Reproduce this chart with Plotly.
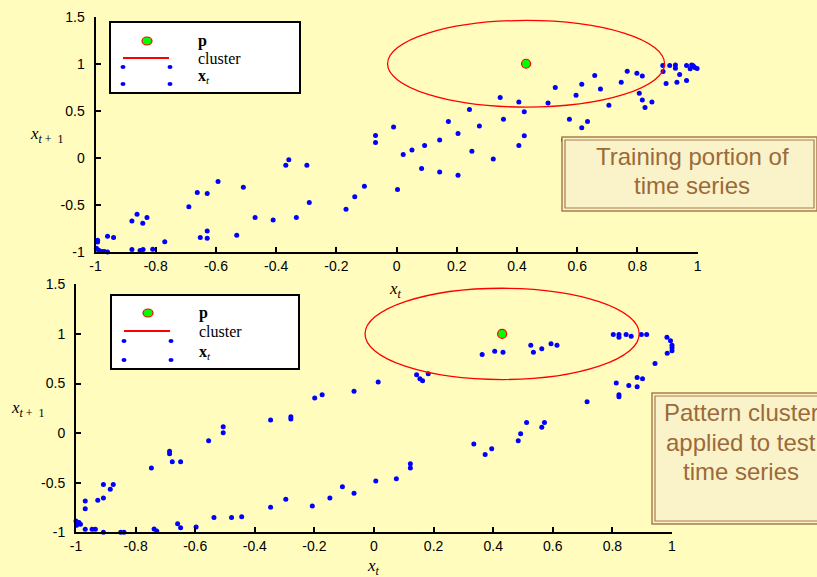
import plotly.graph_objects as go

# ---------------- data ----------------
train_x = [-0.997, -0.99, -0.979, -0.971, -0.96, -0.993, -0.993,
           -0.96, -0.94, -0.879, -0.862, -0.843, -0.829,
           -0.879, -0.852, -0.842, -0.81, -0.77,
           -0.69, -0.662, -0.629, -0.593,
           -0.652, -0.629, -0.629, -0.531,
           -0.509, -0.47, -0.41, -0.333,
           -0.368, -0.358, -0.298,
           -0.29, -0.168, -0.139, -0.107,
           -0.07, -0.07, -0.01, 0.003,
           0.022, 0.051, 0.093, 0.083,
           0.143, 0.143, 0.172, 0.204, 0.204,
           0.242, 0.25, 0.275, 0.321,
           0.344, 0.355, 0.406, 0.424, 0.424, 0.406,
           0.503, 0.527,
           0.554, 0.574, 0.615, 0.634,
           0.596, 0.615, 0.658, 0.677, 0.705,
           0.746, 0.766, 0.798, 0.816,
           0.806, 0.816, 0.825, 0.848,
           0.884, 0.885, 0.895, 0.907,
           0.926, 0.926, 0.94, 0.931,
           0.963, 0.963, 0.98, 0.985, 0.99, 0.998, 0.975]
train_y = [-0.96, -0.98, -0.996, -0.996, -1.0, -0.875, -0.895,
           -0.832, -0.847, -0.67, -0.6, -0.694, -0.634,
           -0.974, -0.985, -0.974, -0.97, -0.89,
           -0.52, -0.369, -0.379, -0.252,
           -0.847, -0.853, -0.776, -0.822,
           -0.311, -0.634, -0.659, -0.634,
           -0.078, -0.021, -0.078,
           -0.475, -0.546, -0.414, -0.301,
           0.237, 0.163, 0.329, -0.337,
           0.035, 0.085, 0.131, -0.114,
           0.191, -0.149, 0.386, 0.258, -0.184,
           0.513, 0.071, 0.34, -0.011,
           0.641, 0.411, 0.595, 0.489, 0.234, 0.131,
           0.584, 0.747,
           0.191, 0.411, 0.319, 0.386,
           0.666, 0.783, 0.875, 0.733, 0.56,
           0.804, 0.921, 0.9, 0.871,
           0.688, 0.616, 0.535, 0.595,
           0.981, 0.917, 0.79, 0.981,
           0.988, 0.953, 0.885, 0.804,
           0.822, 0.981, 0.988, 0.98, 0.96, 0.95, 0.946]

test_x = [-1.0, -0.995, -0.99, -0.985, -0.998,
          -0.969, -0.969, -0.969, -0.946, -0.935,
          -0.927, -0.908, -0.908, -0.908,
          -0.885, -0.875, -0.85, -0.839,
          -0.747, -0.738, -0.729,
          -0.686, -0.686, -0.677, -0.649,
          -0.659, -0.649, -0.597, -0.555,
          -0.537, -0.506, -0.506, -0.478, -0.444,
          -0.347, -0.347, -0.296, -0.279, -0.279,
          -0.199, -0.174, -0.207, -0.148, -0.106,
          -0.067, -0.067, 0.006, 0.014, 0.075,
          0.122, 0.122, 0.143, 0.154, 0.163, 0.182,
          0.335, 0.363, 0.373, 0.395, 0.405, 0.433,
          0.484, 0.492, 0.512, 0.526, 0.535, 0.563,
          0.563, 0.572, 0.594, 0.614,
          0.715, 0.803, 0.822, 0.822, 0.846, 0.863,
          0.897, 0.915, 0.813, 0.822, 0.822,
          0.855, 0.883, 0.883, 0.901, 0.943,
          0.983, 0.995, 1.0, 1.0, 1.0, 0.984]
test_y = [-0.886, -0.91, -0.9, -0.92, -0.93,
          -0.685, -0.762, -0.97, -0.97, -0.97,
          -0.678, -0.654, -0.517, -1.0,
          -0.567, -0.517, -1.0, -1.0,
          -0.352, -0.967, -0.987,
          -0.184, -0.207, -0.289, -0.289,
          -0.913, -0.953, -0.946, -0.077,
          -0.852, 0.064, 0.004, -0.852, -0.842,
          0.131, -0.748, -0.668, 0.165, 0.141,
          0.353, 0.387, -0.735, -0.655, -0.54,
          0.423, -0.607, -0.483, 0.514, -0.46,
          -0.308, -0.352, 0.588, 0.548, 0.528, 0.598,
          -0.111, 0.793, -0.215, -0.157, 0.826, 0.816,
          -0.077, -0.006, 0.108, 0.886, 0.816, 0.85,
          0.06, 0.108, 0.9, 0.886,
          0.316, 0.994, 0.994, 0.967, 0.994, 0.977,
          0.994, 0.994, 0.504, 0.387, 0.366,
          0.481, 0.467, 0.561, 0.548, 0.702,
          0.967, 0.93, 0.886, 0.86, 0.83, 0.806]

p_x = [0.43]
p_y = [1.0]
cluster_radius = 0.46

x_tickvals = [-1, -0.8, -0.6, -0.4, -0.2, 0, 0.2, 0.4, 0.6, 0.8, 1]
x_ticktext = ["-1", "-0.8", "-0.6", "-0.4", "-0.2", "0", "0.2", "0.4", "0.6", "0.8", "1"]
y_tickvals = [-1, -0.5, 0, 0.5, 1, 1.5]
y_ticktext = ["-1", "-0.5", "0", "0.5", "1", "1.5"]

box_texts_top = ["Training portion of", "time series"]
box_texts_bottom = ["Pattern cluster", "applied to test", "time series"]

# ---------------- styling ----------------
W, H = 817, 577
BG = "#FFFCBE"
BOX_FILL = "#FAF3C9"
BOX_LINE = "#A87D4C"
BOX_TEXT = "#9C6A3A"
SANS = "Liberation Sans, Arial, sans-serif"
SERIF = "Liberation Serif, Times New Roman, serif"


def fx(px):
    return px / W


def fy(py):
    return 1 - py / H


fig = go.Figure()

for (xs, ys, xa, ya) in [(train_x, train_y, "x", "y"), (test_x, test_y, "x2", "y2")]:
    fig.add_trace(go.Scatter(x=xs, y=ys, mode="markers", xaxis=xa, yaxis=ya,
                             marker=dict(color="#0000FF", size=5, line=dict(width=0)),
                             cliponaxis=False, showlegend=False, hoverinfo="skip"))
    fig.add_trace(go.Scatter(x=p_x, y=p_y, mode="markers", xaxis=xa, yaxis=ya,
                             marker=dict(color="#00FF00", size=9,
                                         line=dict(color="#FF0000", width=1.2)),
                             cliponaxis=False, showlegend=False, hoverinfo="skip"))

shapes = []
for xa, ya in [("x", "y"), ("x2", "y2")]:
    shapes.append(dict(type="circle", xref=xa, yref=ya,
                       x0=p_x[0] - cluster_radius, x1=p_x[0] + cluster_radius,
                       y0=p_y[0] - cluster_radius, y1=p_y[0] + cluster_radius,
                       line=dict(color="#FF0000", width=1.3), layer="above"))

annotations = []


def legend(x0, y0, x1, y1, yp, yc, yd1, yd2, yx):
    shapes.append(dict(type="rect", xref="paper", yref="paper",
                       x0=fx(x0), x1=fx(x1), y0=fy(y1), y1=fy(y0),
                       fillcolor="white", line=dict(color="black", width=2), layer="above"))
    # p symbol
    shapes.append(dict(type="circle", xref="paper", yref="paper",
                       x0=fx(x0 + 32), x1=fx(x0 + 42), y0=fy(yp + 4), y1=fy(yp - 4),
                       fillcolor="#00FF00", line=dict(color="#FF0000", width=1.2), layer="above"))
    # cluster line
    shapes.append(dict(type="line", xref="paper", yref="paper",
                       x0=fx(x0 + 13), x1=fx(x0 + 59), y0=fy(yc), y1=fy(yc),
                       line=dict(color="#FF0000", width=2), layer="above"))
    # x_t dots
    for yy in (yd1, yd2):
        for xx in (x0 + 13, x0 + 60):
            shapes.append(dict(type="circle", xref="paper", yref="paper",
                               x0=fx(xx - 2.5), x1=fx(xx + 2.5), y0=fy(yy + 2), y1=fy(yy - 2),
                               fillcolor="#0000FF", line=dict(width=0), layer="above"))
    for txt, yy in [("<b>p</b>", yp), ("cluster", yc), ("<b>x</b><sub><i>t</i></sub>", yx)]:
        annotations.append(dict(text=txt, x=fx(x0 + 86), y=fy(yy), xref="paper", yref="paper",
                                xanchor="left", yanchor="middle", showarrow=False,
                                font=dict(family=SERIF, size=16, color="black")))


legend(110, 22, 300, 93, 41, 58, 67, 84, 76)
legend(111, 295, 299, 369, 313, 331, 341, 360, 352)


def textbox(x0, y0, x1, y1, lines, cx, ys):
    shapes.append(dict(type="rect", xref="paper", yref="paper",
                       x0=fx(x0), x1=fx(x1), y0=fy(y1), y1=fy(y0),
                       fillcolor=BOX_FILL, line=dict(color=BOX_LINE, width=1.5), layer="above"))
    shapes.append(dict(type="rect", xref="paper", yref="paper",
                       x0=fx(x0 + 3), x1=fx(x1 - 3), y0=fy(y1 - 3), y1=fy(y0 + 3),
                       line=dict(color=BOX_LINE, width=1.2), layer="above"))
    for t, yy in zip(lines, ys):
        annotations.append(dict(text=t, x=fx(cx), y=fy(yy), xref="paper", yref="paper",
                                xanchor="center", yanchor="middle", showarrow=False,
                                font=dict(family=SANS, size=24, color=BOX_TEXT)))


textbox(562, 137, 817, 211, box_texts_top, 692, [157, 186])
textbox(652, 393, 840, 524, box_texts_bottom, 741, [412, 442, 471])

# axis titles
xt = "<i>x</i><sub><i>t</i></sub>"
xt1 = "<i>x</i><sub><i>t</i> +  1</sub>"
for txt, x, y in [(xt, 395, 290), (xt, 373, 567), (xt1, 46, 135), (xt1, 28, 409)]:
    annotations.append(dict(text=txt, x=fx(x), y=fy(y), xref="paper", yref="paper",
                            xanchor="center", yanchor="middle", showarrow=False,
                            font=dict(family=SERIF, size=17, color="black")))

axis_common = dict(showgrid=False, zeroline=False, showline=True, linecolor="black",
                   linewidth=2, ticks="inside", ticklen=5, tickwidth=1.5, tickcolor="black",
                   mirror=False, automargin=False,
                   tickfont=dict(family=SANS, size=14, color="black"))

fig.update_layout(
    width=W, height=H,
    margin=dict(l=0, r=0, t=0, b=0, pad=0, autoexpand=False),
    paper_bgcolor=BG, plot_bgcolor=BG,
    showlegend=False,
    shapes=shapes, annotations=annotations,
    xaxis=dict(domain=[95.5 / W, 697.7 / W], range=[-1, 1], tickvals=x_tickvals,
               ticktext=x_ticktext, anchor="y", **axis_common),
    yaxis=dict(domain=[(H - 252) / H, (H - 16.7) / H], range=[-1, 1.5], tickvals=y_tickvals,
               ticktext=y_ticktext, anchor="x", ticklabelstandoff=6, **axis_common),
    xaxis2=dict(domain=[76 / W, 672 / W], range=[-1, 1], tickvals=x_tickvals,
                ticktext=x_ticktext, anchor="y2", **axis_common),
    yaxis2=dict(domain=[(H - 532.3) / H, (H - 284.3) / H], range=[-1, 1.5], tickvals=y_tickvals,
                ticktext=y_ticktext, anchor="x2", ticklabelstandoff=6, **axis_common),
)

fig.write_html("out.html", config={"displayModeBar": False},
               post_script="document.body.style.margin='0';document.body.style.overflow='hidden';")
